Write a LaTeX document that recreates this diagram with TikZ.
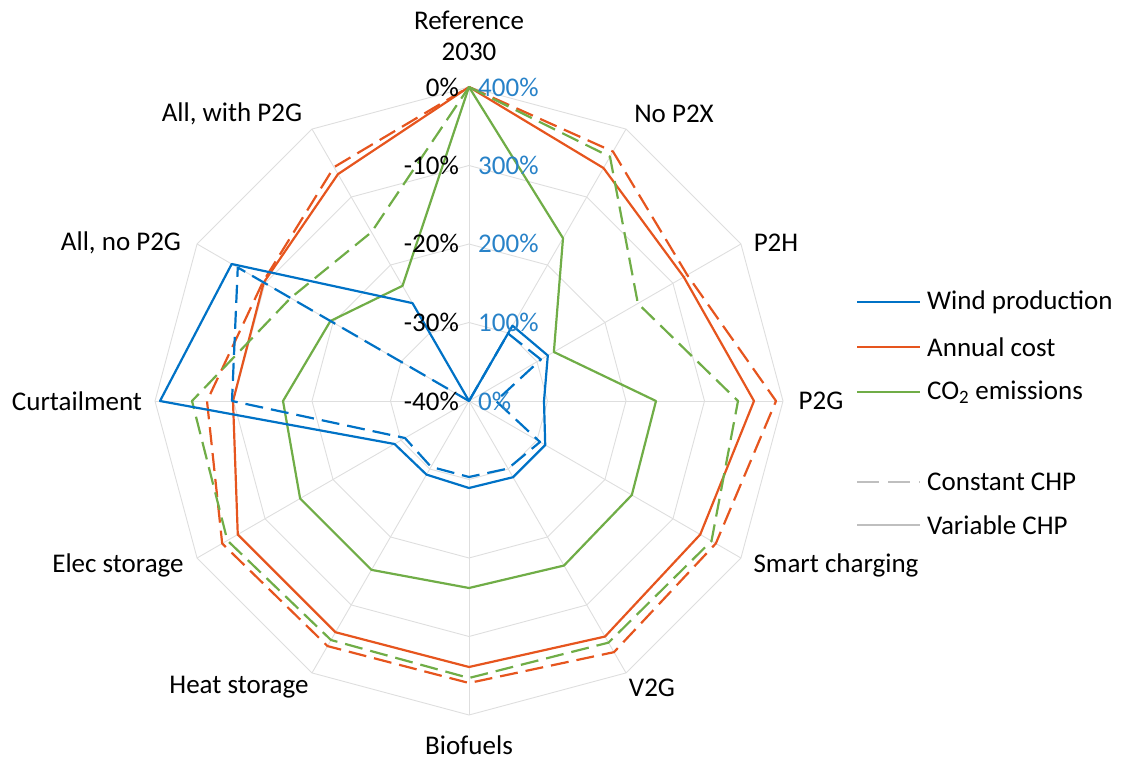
\documentclass[tikz,border=0pt]{standalone}
\usepackage{fontspec}
\setmainfont{Carlito}
\definecolor{wblue}{RGB}{0,114,198}
\definecolor{lblue}{RGB}{40,130,200}
\definecolor{corange}{RGB}{230,85,30}
\definecolor{cgreen}{RGB}{112,173,71}
\definecolor{gridc}{RGB}{222,222,222}
\definecolor{leggray}{RGB}{191,191,191}
\begin{document}
\begin{tikzpicture}[x=1pt,y=1pt,
  font=\fontsize{27}{32}\selectfont,
  gridline/.style={draw=gridc, line width=0.9pt},
  series/.style={line width=2.2pt, line join=round},
  dsh/.style={dash pattern=on 18pt off 8pt},
  lab/.style={inner sep=0pt, text=black},
  axl/.style={inner sep=0pt, anchor=east, text=black},
  axr/.style={inner sep=0pt, anchor=west, text=lblue}]
\useasboundingbox (0,0) rectangle (1122,761);
\coordinate (C) at (469,360);
\begin{scope}[shift={(C)}]
% grid
\foreach \r in {78.5,157,235.5,314}
  \draw[gridline] (90:\r) -- (60:\r) -- (30:\r) -- (0:\r) -- (-30:\r) -- (-60:\r) -- (-90:\r) -- (-120:\r) -- (-150:\r) -- (180:\r) -- (150:\r) -- (120:\r) -- cycle;
\foreach \a in {90,60,...,-240}
  \draw[gridline] (0,0) -- (\a:314);
% Annual cost
\draw[series, corange] (90:314) -- (60:269) -- (30:248) -- (0:285) -- (-30:267) -- (-60:272) -- (-90:266) -- (-120:267) -- (-150:267) -- (180:236) -- (150:237) -- (120:262) -- cycle;
\draw[series, dsh, corange] (90:314) -- (60:288) -- (30:252) -- (0:307) -- (-30:285) -- (-60:290) -- (-90:282) -- (-120:283) -- (-150:285) -- (180:262) -- (150:238) -- (120:270) -- cycle;
% CO2
\draw[series, cgreen] (90:314) -- (60:188) -- (30:98) -- (0:187) -- (-30:188) -- (-60:190) -- (-90:187) -- (-120:195) -- (-150:195) -- (180:186) -- (150:160) -- (120:133) -- cycle;
\draw[series, dsh, cgreen] (90:314) -- (60:282) -- (30:195) -- (0:269) -- (-30:280) -- (-60:279) -- (-90:277) -- (-120:276) -- (-150:279) -- (180:277) -- (150:206) -- (120:195) -- cycle;
% Wind
\draw[series, wblue] (90:0) -- (60:87) -- (30:91) -- (0:75) -- (-30:88) -- (-60:88) -- (-90:87) -- (-120:85) -- (-150:86) -- (180:309) -- (150:274) -- (120:113) -- cycle;
\draw[series, dsh, wblue] (90:0) -- (60:78) -- (30:83) -- (0:27) -- (-30:82) -- (-60:78) -- (-90:76) -- (-120:76) -- (-150:74) -- (180:237) -- (150:267) -- (120:0) -- cycle;
\end{scope}
% axis labels
\node[axl] (l0) at (459,674) {0\%};
\node[axl] (l1) at (459,596) {-10\%};
\node[axl] (l2) at (459,518) {-20\%};
\node[axl] (l3) at (459,439) {-30\%};
\node[axl] (l4) at (459,360) {-40\%};
\node[axr] (r4) at (478,674) {400\%};
\node[axr] (r3) at (478,596) {300\%};
\node[axr] (r2) at (478,518) {200\%};
\node[axr] (r1) at (478,439) {100\%};
\node[axr] (r0) at (478,360) {0\%};
% category labels
\node[lab] (c0a) at (469,741) {Reference};
\node[lab] (c0b) at (469,709) {2030};
\node[lab] (c1) at (674,647) {No P2X};
\node[lab] (c2) at (776,518) {P2H};
\node[lab] (c3) at (821,360) {P2G};
\node[lab] (c4) at (836,196) {Smart charging};
\node[lab] (c5) at (652,73) {V2G};
\node[lab] (c6) at (469,16) {Biofuels};
\node[lab] (c7) at (239,74) {Heat storage};
\node[lab] (c8) at (118,196) {Elec storage};
\node[lab] (c9) at (77,360) {Curtailment};
\node[lab] (c10) at (121,518) {All, no P2G};
\node[lab] (c11) at (232,647) {All, with P2G};
% legend
\coordinate (g1a) at (857,459); \coordinate (g1b) at (920,459);
\coordinate (g2a) at (857,414); \coordinate (g2b) at (920,414);
\coordinate (g3a) at (857,369); \coordinate (g3b) at (920,369);
\coordinate (g4a) at (857,279); \coordinate (g4b) at (920,279);
\coordinate (g5a) at (857,236); \coordinate (g5b) at (920,236);
\draw[series, wblue] (g1a) -- (g1b);
\draw[series, corange] (g2a) -- (g2b);
\draw[series, cgreen] (g3a) -- (g3b);
\draw[series, leggray, dash pattern=on 22pt off 9pt] (g4a) -- (g4b);
\draw[series, leggray] (g5a) -- (g5b);
\node[lab, anchor=west] (t1) at (927,459) {Wind production};
\node[lab, anchor=west] (t2) at (927,414) {Annual cost};
\node[lab, anchor=west] (t3) at (927,369) {CO\textsubscript{2} emissions};
\node[lab, anchor=west] (t4) at (927,279) {Constant CHP};
\node[lab, anchor=west] (t5) at (927,236) {Variable CHP};
\end{tikzpicture}
\end{document}
